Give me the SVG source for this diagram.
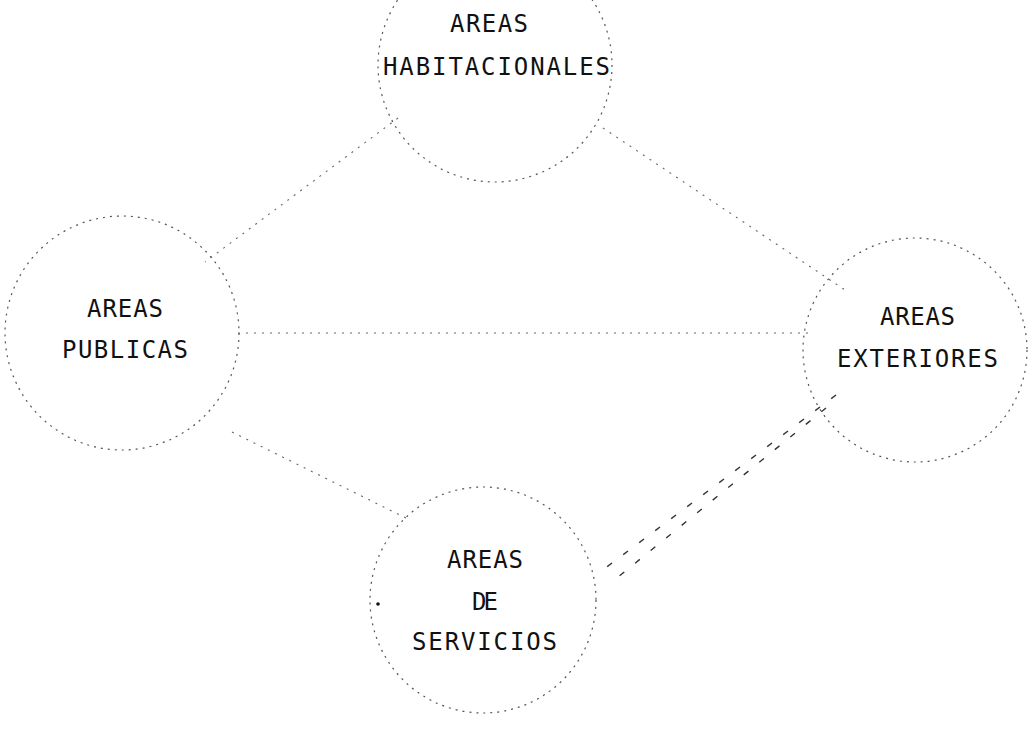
<svg xmlns="http://www.w3.org/2000/svg" width="1033" height="732" viewBox="0 0 1033 732">
<style>
.c{fill:none;stroke:#555;stroke-width:1.2;stroke-dasharray:2 5}
.l{fill:none;stroke:#666;stroke-width:1.1;stroke-dasharray:2 6}
.d{fill:none;stroke:#333;stroke-width:1.4;stroke-dasharray:6 14}
text{font-family:"DejaVu Sans Mono","Liberation Mono",monospace;font-size:24px;fill:#111}
</style>
<rect width="1033" height="732" fill="#fff"/>
<g id="connectors">
<line class="l" x1="398" y1="118" x2="205" y2="262"/>
<line class="l" x1="603" y1="128" x2="845" y2="290"/>
<line class="l" x1="238" y1="333" x2="812" y2="333"/>
<line class="l" x1="232" y1="432" x2="410" y2="520"/>
<line class="d" x1="836" y1="395" x2="600" y2="572"/>
<line class="d" x1="826" y1="408" x2="612" y2="582"/>
</g>
<g id="habitacionales">
<circle class="c" cx="495" cy="65" r="117"/>
<text x="450" y="32" textLength="78" lengthAdjust="spacing">AREAS</text>
<text x="383" y="75" textLength="227" lengthAdjust="spacing">HABITACIONALES</text>
</g>
<g id="publicas">
<circle class="c" cx="122" cy="333" r="117"/>
<text x="87" y="317" textLength="76" lengthAdjust="spacing">AREAS</text>
<text x="62" y="358" textLength="126" lengthAdjust="spacing">PUBLICAS</text>
</g>
<g id="exteriores">
<circle class="c" cx="915" cy="350" r="112"/>
<text x="880" y="325" textLength="75" lengthAdjust="spacing">AREAS</text>
<text x="837" y="367" textLength="161" lengthAdjust="spacing">EXTERIORES</text>
</g>
<g id="servicios">
<circle class="c" cx="483" cy="600" r="113"/>
<text x="447" y="568" textLength="76" lengthAdjust="spacing">AREAS</text>
<text x="472" y="610" textLength="26" lengthAdjust="spacing">DE</text>
<text x="412" y="650" textLength="145" lengthAdjust="spacing">SERVICIOS</text>
<circle cx="378" cy="604" r="1.8" fill="#111"/>
</g>
</svg>
